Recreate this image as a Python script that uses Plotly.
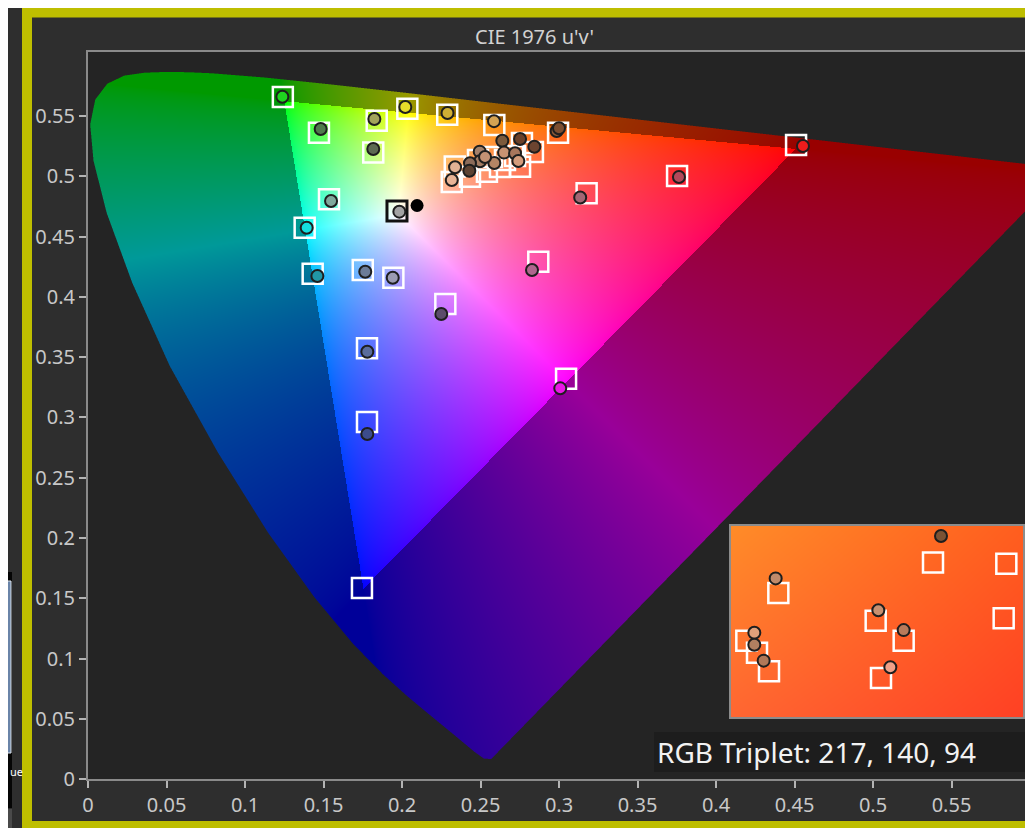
import base64
import struct
import zlib

import numpy as np
import plotly.graph_objects as go

# ── spectral locus in CIE 1976 u'v' (380 nm -> 700 nm), closed by the line of purples ──
LOCUS_U = [0.2568, 0.2522, 0.2461, 0.2347, 0.2161, 0.2033, 0.1877, 0.1690, 0.1441, 0.1147,
           0.0828, 0.0521, 0.0282, 0.0119, 0.0035, 0.0014, 0.0046, 0.0123, 0.0231, 0.0360,
           0.0501, 0.0643, 0.0792, 0.1127, 0.1531, 0.2026, 0.2623, 0.3315, 0.4035, 0.4692,
           0.5203, 0.5565, 0.5830, 0.6005, 0.6234]
LOCUS_V = [0.0166, 0.0169, 0.0226, 0.0350, 0.0549, 0.0688, 0.0871, 0.1119, 0.1510, 0.2044,
           0.2708, 0.3427, 0.4117, 0.4698, 0.5131, 0.5431, 0.5638, 0.5770, 0.5837, 0.5861,
           0.5868, 0.5865, 0.5856, 0.5821, 0.5766, 0.5694, 0.5604, 0.5501, 0.5393, 0.5296,
           0.5219, 0.5165, 0.5125, 0.5099, 0.5065]

# ── target squares ──
TARGET_U = [0.1241, 0.1471, 0.1839, 0.2034, 0.2288, 0.1817, 0.2588, 0.2994, 0.4510, 0.3176,
            0.3752, 0.1535, 0.1380, 0.1431, 0.1750, 0.1945, 0.2276, 0.2868, 0.1777, 0.3045,
            0.1777, 0.1745,
            0.2336, 0.2317, 0.2433, 0.2541, 0.2624, 0.2656, 0.2752, 0.2764, 0.2834, 0.2484,
            0.2573, 0.2720]
TARGET_V = [0.5660, 0.5363, 0.5463, 0.5563, 0.5513, 0.5198, 0.5427, 0.5363, 0.5261, 0.4861,
            0.5004, 0.4812, 0.4575, 0.4193, 0.4224, 0.4160, 0.3942, 0.4293, 0.3574, 0.3322,
            0.2963, 0.1585,
            0.5082, 0.4954, 0.4998, 0.5040, 0.5079, 0.5137, 0.5081, 0.5278, 0.5203, 0.5137,
            0.5162, 0.5170]

WHITE_TARGET_U = [0.1968]
WHITE_TARGET_V = [0.4714]

# ── measured circles ──
MEAS_U = [0.1238, 0.1482, 0.1824, 0.2021, 0.2290, 0.1817, 0.2586, 0.2985, 0.3000, 0.4554,
          0.3135, 0.3764, 0.1548, 0.1393, 0.1461, 0.1766, 0.1941, 0.1983, 0.2250, 0.2828,
          0.1779, 0.3008, 0.1779,
          0.2639, 0.2752, 0.2843, 0.2495, 0.2650, 0.2720, 0.2741, 0.2588, 0.2497, 0.2433,
          0.2429, 0.2338, 0.2317, 0.2529]
MEAS_V = [0.5662, 0.5394, 0.5477, 0.5577, 0.5527, 0.5228, 0.5459, 0.5378, 0.5400, 0.5253,
          0.4826, 0.4996, 0.4797, 0.4575, 0.4174, 0.4210, 0.4160, 0.4708, 0.3859, 0.4224,
          0.3546, 0.3242, 0.2863,
          0.5297, 0.5311, 0.5247, 0.5206, 0.5198, 0.5193, 0.5129, 0.5112, 0.5126, 0.5110,
          0.5048, 0.5076, 0.4971, 0.5162]
MEAS_COLORS = ["#1fd51f", "#4f7a4c", "#a3a45a", "#e6dc2a", "#cfae34", "#5d6a52", "#d4a352",
               "#8a5a38", "#7c4e30", "#ee1c1c", "#a36674", "#b4485a", "#80a89c", "#14dede",
               "#2196a6", "#6c7c98", "#9b9bb3", "#a3a3a3", "#5c4c6c", "#b0668e", "#5a6c9c",
               "#ea18e6", "#3c4c8c",
               "#7c5a3c", "#6a4028", "#6c4430", "#a4806a", "#c89272", "#a8765c", "#d49c7c",
               "#b48464", "#a47c62", "#8c6c5a", "#5c4232", "#e2b294", "#e8b496", "#c49274"]

CURRENT_U = [0.2096]
CURRENT_V = [0.4759]

# ── zoomed inset ──
INSET_TARGET_U = [0.2708, 0.2763, 0.2592, 0.2665, 0.2761, 0.2686, 0.2568, 0.2576, 0.2585, 0.2669]
INSET_TARGET_V = [0.5196, 0.5195, 0.5173, 0.5152, 0.5154, 0.5137, 0.5137, 0.5128, 0.5114, 0.5109]
INSET_MEAS_U = [0.2714, 0.2590, 0.2667, 0.2686, 0.2574, 0.2574, 0.2581, 0.2676]
INSET_MEAS_V = [0.5216, 0.5184, 0.5160, 0.5145, 0.5143, 0.5134, 0.5122, 0.5117]
INSET_MEAS_COLORS = ["#7a5234", "#c08a6a", "#c89070", "#b87a5a", "#e0a07a", "#b08060",
                     "#b07858", "#f0a088"]
INSET_U_RANGE = [0.2555, 0.2777]
INSET_V_RANGE = [0.5078, 0.5225]
INSET_CORNERS = [(255, 140, 40), (255, 94, 30), (255, 102, 50), (255, 64, 36)]  # tl tr bl br

X_TICKS = [0, 0.05, 0.1, 0.15, 0.2, 0.25, 0.3, 0.35, 0.4, 0.45, 0.5, 0.55]
TICK_TEXT = ["0", "0.05", "0.1", "0.15", "0.2", "0.25", "0.3", "0.35", "0.4", "0.45", "0.5", "0.55"]
X_MAX, Y_MAX = 0.6, 0.6033

TITLE = "CIE 1976 u'v'"
TRIPLET = "RGB Triplet: 217, 140, 94"


# ═════════════ helpers ═════════════

def png_uri(rgba):
    h, w, _ = rgba.shape
    sub = rgba.copy()
    sub[:, 1:] = rgba[:, 1:] - rgba[:, :-1]
    raw = np.concatenate([np.ones((h, 1), np.uint8), sub.reshape(h, -1)], axis=1).tobytes()

    def chunk(tag, data):
        return (struct.pack(">I", len(data)) + tag + data
                + struct.pack(">I", zlib.crc32(tag + data) & 0xFFFFFFFF))

    ihdr = struct.pack(">IIBBBBB", w, h, 8, 6, 0, 0, 0)
    png = (b"\x89PNG\r\n\x1a\n" + chunk(b"IHDR", ihdr)
           + chunk(b"IDAT", zlib.compress(raw, 9)) + chunk(b"IEND", b""))
    return "data:image/png;base64," + base64.b64encode(png).decode()


def chroma_rgb(u, v):
    d = 6 * u - 16 * v + 12
    x = 9 * u / d
    y = 4 * v / d
    z = 1 - x - y
    lin = np.stack([3.2406 * x - 1.5372 * y - 0.4986 * z,
                    -0.9689 * x + 1.8758 * y + 0.0415 * z,
                    0.0557 * x - 0.2040 * y + 1.0570 * z], -1)
    in_gamut = (lin >= 0).all(-1)
    lin = np.clip(lin, 0, None)
    lin = lin / np.maximum(lin.max(-1, keepdims=True), 1e-9)
    shown = lin ** (1 / 1.5)
    return np.where(in_gamut[..., None], shown, shown * 0.6)


def row_span(v_rows, pu, pv):
    pu = np.asarray(pu + pu[:1])
    pv = np.asarray(pv + pv[:1])
    u0, u1, v0, v1 = pu[:-1], pu[1:], pv[:-1], pv[1:]
    vr = v_rows[:, None]
    hit = (vr >= np.minimum(v0, v1)) & (vr < np.maximum(v0, v1))
    t = (vr - v0) / np.where(v1 == v0, 1, v1 - v0)
    cu = u0 + t * (u1 - u0)
    return np.where(hit, cu, np.inf).min(1), np.where(hit, cu, -np.inf).max(1)


def diagram_image(w, h, ss=3):
    us = (np.arange(w * ss) + 0.5) / (w * ss) * X_MAX
    vs = Y_MAX - (np.arange(h * ss) + 0.5) / (h * ss) * Y_MAX
    left, right = row_span(vs, LOCUS_U, LOCUS_V)
    inside = (us[None, :] >= left[:, None]) & (us[None, :] <= right[:, None])
    alpha = inside.reshape(h, ss, w, ss).mean(axis=(1, 3))
    uc = (np.arange(w) + 0.5) / w * X_MAX
    vc = Y_MAX - (np.arange(h) + 0.5) / h * Y_MAX
    U, V = np.meshgrid(uc, vc)
    rgb = chroma_rgb(U, V)
    out = np.dstack([rgb, alpha[..., None]])
    return np.round(out * 255).astype(np.uint8)


def inset_image(w, h, border=2):
    fx = np.linspace(0, 1, w)[None, :, None]
    fy = np.linspace(0, 1, h)[:, None, None]
    tl, tr, bl, br = [np.array(c, float) for c in INSET_CORNERS]
    grad = (1 - fy) * ((1 - fx) * tl + fx * tr) + fy * ((1 - fx) * bl + fx * br)
    img = np.dstack([grad, np.full((h, w, 1), 255.0)])
    frame = np.array([140, 140, 140, 255], float)
    img[:border], img[-border:], img[:, :border], img[:, -border:] = frame, frame, frame, frame
    return np.round(img).astype(np.uint8)


# plot area in window pixels: x 88..1030, y 52..779 (page body adds an 8px offset)
def px(x):
    return (x - 88) / 942


def py(y):
    return (779 - y) / 727


# ═════════════ figure ═════════════

fig = go.Figure()

fig.add_trace(go.Scatter(
    x=TARGET_U, y=TARGET_V, mode="markers", hoverinfo="skip",
    marker=dict(symbol="square-open", size=20, color="white",
                line=dict(color="white", width=2.5))))
fig.add_trace(go.Scatter(
    x=WHITE_TARGET_U, y=WHITE_TARGET_V, mode="markers", hoverinfo="skip",
    marker=dict(symbol="square-open", size=20, color="#111111",
                line=dict(color="#111111", width=3))))
fig.add_trace(go.Scatter(
    x=MEAS_U, y=MEAS_V, mode="markers", hoverinfo="skip",
    marker=dict(symbol="circle", size=12, color=MEAS_COLORS,
                line=dict(color="#1e1e1e", width=2))))
fig.add_trace(go.Scatter(
    x=CURRENT_U, y=CURRENT_V, mode="markers", hoverinfo="skip",
    marker=dict(symbol="circle", size=13, color="#000000", line=dict(width=0))))

# inset
fig.add_trace(go.Scatter(
    x=INSET_TARGET_U, y=INSET_TARGET_V, xaxis="x2", yaxis="y2", mode="markers",
    hoverinfo="skip",
    marker=dict(symbol="square-open", size=20, color="white",
                line=dict(color="white", width=2.5))))
fig.add_trace(go.Scatter(
    x=INSET_MEAS_U, y=INSET_MEAS_V, xaxis="x2", yaxis="y2", mode="markers",
    hoverinfo="skip",
    marker=dict(symbol="circle", size=12, color=INSET_MEAS_COLORS,
                line=dict(color="#1e1e1e", width=2))))

images = [
    dict(source=png_uri(diagram_image(942, 727)), xref="x", yref="y", x=0, y=Y_MAX,
         sizex=X_MAX, sizey=Y_MAX, xanchor="left", yanchor="top", sizing="stretch",
         layer="below"),
    dict(source=png_uri(inset_image(296, 195)), xref="x2", yref="y2",
         x=INSET_U_RANGE[0], y=INSET_V_RANGE[1],
         sizex=INSET_U_RANGE[1] - INSET_U_RANGE[0], sizey=INSET_V_RANGE[1] - INSET_V_RANGE[0],
         xanchor="left", yanchor="top", sizing="stretch", layer="below"),
]

shapes = [
    # yellow window frame
    dict(type="rect", xref="paper", yref="paper", x0=px(27), x1=px(1048), y0=py(826), y1=py(12.5),
         line=dict(color="#bebe00", width=10), fillcolor="rgba(0,0,0,0)", layer="below"),
    # neighbouring panel on the left edge
    dict(type="rect", xref="paper", yref="paper", x0=px(-2), x1=px(12), y0=py(808), y1=py(572),
         line=dict(width=0), fillcolor="#050505", layer="below"),
    dict(type="rect", xref="paper", yref="paper", x0=px(-2), x1=px(11), y0=py(753), y1=py(581),
         line=dict(color="#dfe6ee", width=1), fillcolor="#6a84a8", layer="below"),
    dict(type="rect", xref="paper", yref="paper", x0=px(-2), x1=px(12), y0=py(830), y1=py(809),
         line=dict(width=0), fillcolor="#4a4a4a", layer="below"),
    # RGB triplet box
    dict(type="rect", xref="paper", yref="paper", x0=px(654), x1=px(1027), y0=py(772), y1=py(732),
         line=dict(width=0), fillcolor="#1d1d1d", layer="above"),
]

annotations = [
    dict(text=TITLE, xref="paper", yref="paper", x=px(534), y=py(37), showarrow=False,
         font=dict(size=20, color="#d2d2d2"), xanchor="center", yanchor="middle"),
    dict(text=TRIPLET, xref="paper", yref="paper", x=px(655), y=py(752), showarrow=False,
         font=dict(size=28, color="#f2f2f2"), xanchor="left", yanchor="middle"),
    dict(text="ue", xref="paper", yref="paper", x=px(8), y=py(771), showarrow=False,
         font=dict(size=11, color="#ffffff"), xanchor="left", yanchor="middle"),
]

axis_style = dict(
    tickvals=X_TICKS, ticktext=TICK_TEXT, ticks="outside", ticklen=7, tickwidth=1.5,
    tickcolor="#b4b4b4", tickfont=dict(size=20, color="#c8c8c8"),
    showline=True, linecolor="#8a8a8a", linewidth=2, mirror=True,
    showgrid=False, zeroline=False, fixedrange=True, automargin=False)

fig.update_layout(
    width=1025, height=820,
    margin=dict(l=80, r=3, t=44, b=49),
    paper_bgcolor="#2e2e2e", plot_bgcolor="#242424",
    font=dict(family="Noto Sans", color="#c8c8c8"),
    showlegend=False,
    xaxis=dict(range=[0, X_MAX], **axis_style),
    yaxis=dict(range=[0, Y_MAX], **axis_style),
    xaxis2=dict(domain=[px(729), px(1025)], range=INSET_U_RANGE, anchor="y2", visible=False,
                fixedrange=True),
    yaxis2=dict(domain=[py(719), py(524)], range=INSET_V_RANGE, anchor="x2", visible=False,
                fixedrange=True),
    images=images, shapes=shapes, annotations=annotations,
)

fig.write_html("out.html")
